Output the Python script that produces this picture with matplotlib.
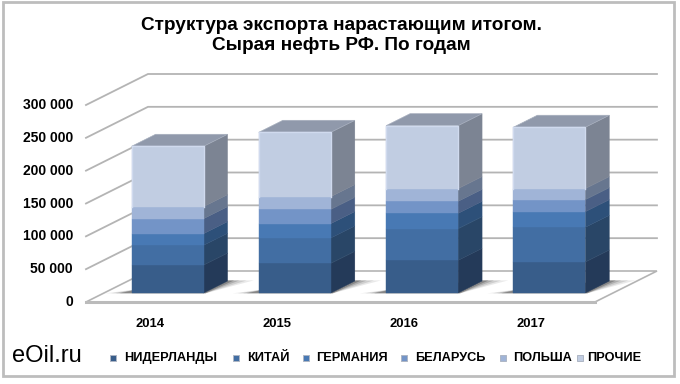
import matplotlib
matplotlib.use("Agg")
import matplotlib.pyplot as plt
from matplotlib.patches import Polygon, Rectangle
from matplotlib.lines import Line2D

plt.rcParams['font.family'] = ['Liberation Sans', 'DejaVu Sans']

# ---- data ----
years = ["2014", "2015", "2016", "2017"]
niderlandy = [42600, 45200, 49700, 47200]
kitai = [30000, 38600, 48200, 52800]
germaniya = [17800, 21800, 23400, 23900]
belarus = [22800, 21800, 18300, 18300]
polsha = [18300, 19300, 19300, 16800]
prochie = [91900, 98000, 95900, 93400]
series_names = ["НИДЕРЛАНДЫ", "КИТАЙ", "ГЕРМАНИЯ", "БЕЛАРУСЬ", "ПОЛЬША", "ПРОЧИЕ"]
series_values = [niderlandy, kitai, germaniya, belarus, polsha, prochie]
y_ticks = [0, 50000, 100000, 150000, 200000, 250000, 300000]
y_tick_labels = ["0", "50 000", "100 000", "150 000", "200 000", "250 000", "300 000"]
title = "Структура экспорта нарастающим итогом.\nСырая нефть РФ. По годам"
brand = "eOil.ru"

# ---- styles ----
front_cols = ["#385D8A", "#426EA3", "#4879B4", "#7394C7", "#A0B4D7", "#C1CDE2"]
side_cols = ["#243A59", "#294667", "#2D5079", "#4A5F85", "#67768F", "#7C8493"]
top_col = "#9099AB"
legend_cols = ["#385D8A", "#426EA3", "#4879B4", "#7394C7", "#A0B4D7", "#C1CDE2"]
grid_col = "#B4B4B4"
W, H = 680, 384
PX_PER_VAL = 197 / 300000      # vertical pixels per unit of value
PX_PER_CAT = 127.25            # horizontal pixels per category
X0_PX, Y0_PX = 149.6, 302      # pixel position of first category centre, value 0
DX = 62 / PX_PER_CAT           # depth offset of the whole floor, category units
DY = 31 / PX_PER_VAL           # depth offset, value units
BAR_W = 72 / PX_PER_CAT
D0, D1 = 0.29, 0.677           # bar front and back, in fractions of depth
N = len(years)

fig = plt.figure(figsize=(W / 100, H / 100), dpi=100, facecolor="white")
ax = fig.add_axes([0, 0, 1, 1])
ax.set_xlim((0 - X0_PX) / PX_PER_CAT, (W - X0_PX) / PX_PER_CAT)
ax.set_ylim((Y0_PX - H) / PX_PER_VAL, Y0_PX / PX_PER_VAL)
ax.axis("off")


def pr(x, v, d=0.0):
    return (x + d * DX, v + d * DY)


# outer frame
fig.add_artist(Rectangle((2.5 / W, 1 - 376 / H), 671 / W, 374 / H, transform=fig.transFigure,
                         fill=False, ec="#BDBDBD", lw=2))

xl, xr = -0.5, N - 0.5
# wall grid
for t in y_ticks[1:]:
    ax.plot(*zip(pr(xl, t), pr(xl, t, 1), pr(xr, t, 1)), color=grid_col, lw=1.3, zorder=1,
            solid_joinstyle="miter")
# floor
floor = [pr(xl, 0), pr(xl, 0, 1), pr(xr, 0, 1), pr(xr, 0)]
ax.add_patch(Polygon(floor, closed=True, fc="white", ec=grid_col, lw=1.2, zorder=1.5))
ax.plot(*zip(pr(xl, 0), pr(xr, 0)), color="#BBBBBB", lw=2.2, zorder=1.6)

# bars
for i in range(N):
    xa, xb = i - BAR_W / 2, i + BAR_W / 2
    # floor shadow
    for grow, alpha in ((0.14, 0.10), (0.10, 0.14), (0.06, 0.2), (0.03, 0.3)):
        sh = [pr(xa - 0.06 - grow, 0, D0 - 0.01), pr(xa + grow * 0.1, 0, D0 + 0.14),
              pr(xb, 0, D1 + 0.02), pr(xb + grow * 1.4, 0, D1 + 0.02),
              pr(xb + 0.02, 0, D0 - 0.01)]
        ax.add_patch(Polygon(sh, closed=True, fc="#303030", ec="none", alpha=alpha, zorder=2))
    base = 0
    for s in range(len(series_values)):
        v = series_values[s][i]
        top = base + v
        ax.add_patch(Polygon([pr(xb, base, D0), pr(xb, base, D1), pr(xb, top, D1), pr(xb, top, D0)],
                             closed=True, fc=side_cols[s], ec=side_cols[s], lw=0.3, zorder=3))
        ax.add_patch(Polygon([pr(xa, base, D0), pr(xb, base, D0), pr(xb, top, D0), pr(xa, top, D0)],
                             closed=True, fc=front_cols[s], ec=front_cols[s], lw=0.3, zorder=4))
        base = top
    ax.add_patch(Polygon([pr(xa, base, D0), pr(xb, base, D0), pr(xb, base, D1), pr(xa, base, D1)],
                         closed=True, fc=top_col, ec="#A6AEBD", lw=0.5, zorder=3.5))
    # light bevel of the top segment
    seg_low = base - series_values[-1][i]
    ax.plot(*zip(pr(xa, seg_low, D0), pr(xa, base, D0), pr(xb, base, D0), pr(xb, seg_low, D0)),
            color="#D0DAEE", lw=1.0, zorder=4.5)
    # year label
    ax.text(i, -34000, years[i], ha="center", va="center", fontsize=9.4, fontweight="bold",
            color="black", zorder=5)

# value axis labels
for t, lab in zip(y_ticks, y_tick_labels):
    ax.text(pr(xl, 0)[0] - 13 / PX_PER_CAT, t, lab, ha="right", va="center", fontsize=10,
            fontweight="bold", color="black")

fig.text(341 / W, 1 - 25 / H, title.split("\n")[0], ha="center", va="center", fontsize=13.7,
         fontweight="bold", color="black")
fig.text(341 / W, 1 - 46 / H, title.split("\n")[1], ha="center", va="center", fontsize=13.7,
         fontweight="bold", color="black")
fig.text(12 / W, 1 - 356 / H, brand, ha="left", va="center", fontsize=17, color="black")

# legend
marker_px = [113, 236, 306, 404, 503, 580]
text_px = [124, 247, 316, 415, 513, 587]
for name, col, mx, tx in zip(series_names, legend_cols, marker_px, text_px):
    fig.add_artist(Line2D([mx / W], [1 - 358 / H], marker="s", ms=4.8, mfc=col, mec="#AEB6C4", mew=0.7,
                          ls="none", transform=fig.transFigure))
    fig.text(tx / W, 1 - 358 / H, name, ha="left", va="center", fontsize=9.2, fontweight="bold",
             color="black")

fig.savefig("out.png", dpi=100, facecolor="white")
